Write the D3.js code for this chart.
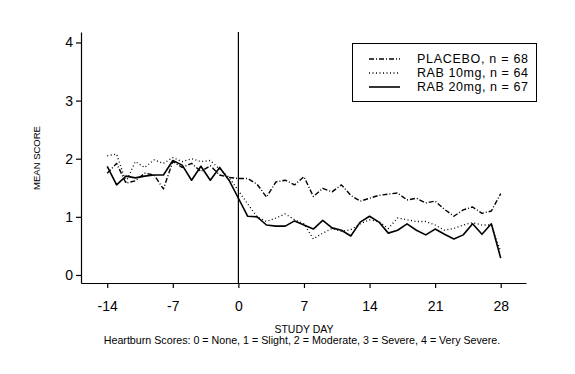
<!DOCTYPE html>
<html><head><meta charset="utf-8">
<script src="https://cdn.jsdelivr.net/npm/d3@7"></script>
<style>body{margin:0;background:#fff}svg{display:block}text{font-family:"Liberation Sans",Arial,sans-serif;fill:#000}</style>
</head><body><svg id="c" width="575" height="374"></svg>
<script>
const days = [-14,-13,-12,-11,-10,-9,-8,-7,-6,-5,-4,-3,-2,-1,0,1,2,3,4,5,6,7,8,9,10,11,12,13,14,15,16,17,18,19,20,21,22,23,24,25,26,27,28];
const placebo = [1.75,1.92,1.58,1.62,1.75,1.72,1.48,1.95,1.85,1.92,1.78,1.88,1.72,1.68,1.66,1.66,1.56,1.34,1.60,1.63,1.55,1.69,1.35,1.49,1.43,1.55,1.37,1.27,1.32,1.37,1.39,1.41,1.29,1.32,1.24,1.27,1.13,1.01,1.12,1.17,1.06,1.10,1.40];
const rab10 = [2.05,2.08,1.60,1.95,1.85,1.98,1.92,2.02,1.95,2.00,1.95,1.97,1.82,1.68,1.45,1.22,1.00,0.92,0.98,1.05,0.95,0.88,0.62,0.72,0.80,0.75,0.78,0.88,0.95,0.92,0.80,0.98,0.95,0.92,0.92,0.86,0.77,0.80,0.86,0.90,0.86,0.86,0.40];
const rab20 = [1.87,1.55,1.70,1.67,1.70,1.72,1.72,1.97,1.89,1.63,1.87,1.63,1.85,1.63,1.32,1.01,1.00,0.86,0.84,0.84,0.93,0.86,0.79,0.94,0.81,0.77,0.67,0.91,1.01,0.91,0.72,0.77,0.88,0.77,0.69,0.79,0.70,0.62,0.69,0.88,0.70,0.88,0.29];
const xTicks = [-14,-7,0,7,14,21,28];
const yTicks = [0,1,2,3,4];
const seriesNames = ["PLACEBO, n = 68","RAB 10mg, n = 64","RAB 20mg, n = 67"];
const seriesData = [placebo, rab10, rab20];
const dashes = ["5,2,1,2","1,2.5",null];
const widths = [1.4,1.3,1.6];

const svg = d3.select("#c");
const x = d3.scaleLinear().domain([-16.8,30.7]).range([81,526]);
const y = d3.scaleLinear().domain([-0.138,4.18]).range([283,32]);

const gx = svg.append("g").attr("transform","translate(0,283)")
  .call(d3.axisBottom(x).tickValues(xTicks).tickSize(5).tickSizeOuter(0).tickFormat(d=>String(d)));
gx.selectAll("text").attr("font-size","14px").attr("dy","1.4em").style("font-family","Liberation Sans, Arial, sans-serif");
const gy = svg.append("g").attr("transform","translate(81,0)")
  .call(d3.axisLeft(y).tickValues(yTicks).tickSize(5).tickSizeOuter(0).tickFormat(d=>String(d)));
gy.selectAll("text").attr("font-size","14px").attr("x",-8).style("font-family","Liberation Sans, Arial, sans-serif");
svg.selectAll(".domain, .tick line").attr("stroke","#000").attr("stroke-width",1.2);

svg.append("line").attr("x1",x(0)).attr("x2",x(0)).attr("y1",y(4.18)).attr("y2",y(-0.138))
  .attr("stroke","#000").attr("stroke-width",1.2);

const line = d3.line().x((d,i)=>x(days[i])).y(d=>y(d));
seriesData.forEach((s,k)=>{
  svg.append("path").datum(s).attr("d",line).attr("fill","none").attr("stroke","#000")
    .attr("stroke-width",widths[k]).attr("stroke-dasharray",dashes[k]).attr("stroke-linejoin","round");
});

// legend
const lg = svg.append("g");
lg.append("rect").attr("x",352.5).attr("y",43.5).attr("width",184).attr("height",58).attr("fill","#fff").attr("stroke","#000").attr("stroke-width",1);
seriesNames.forEach((n,k)=>{
  const yy = 59 + k*14;
  lg.append("line").attr("x1",369).attr("x2",400).attr("y1",yy).attr("y2",yy).attr("stroke","#000")
    .attr("stroke-width",widths[k]).attr("stroke-dasharray",dashes[k]);
  lg.append("text").attr("x",417).attr("y",yy).attr("dy","0.35em").attr("font-size","12.5px")
    .attr("textLength",111).attr("lengthAdjust","spacing").text(n);
});

svg.append("text").attr("transform","translate(40,158) rotate(-90)").attr("text-anchor","middle")
  .attr("font-size","9.5px").text("MEAN SCORE");
svg.append("text").attr("x",304).attr("y",333).attr("text-anchor","middle").attr("font-size","10.5px").text("STUDY DAY");
svg.append("text").attr("x",302).attr("y",344).attr("text-anchor","middle").attr("font-size","10.7px")
  .text("Heartburn Scores: 0 = None, 1 = Slight, 2 = Moderate, 3 = Severe, 4 = Very Severe.");
</script></body></html>
